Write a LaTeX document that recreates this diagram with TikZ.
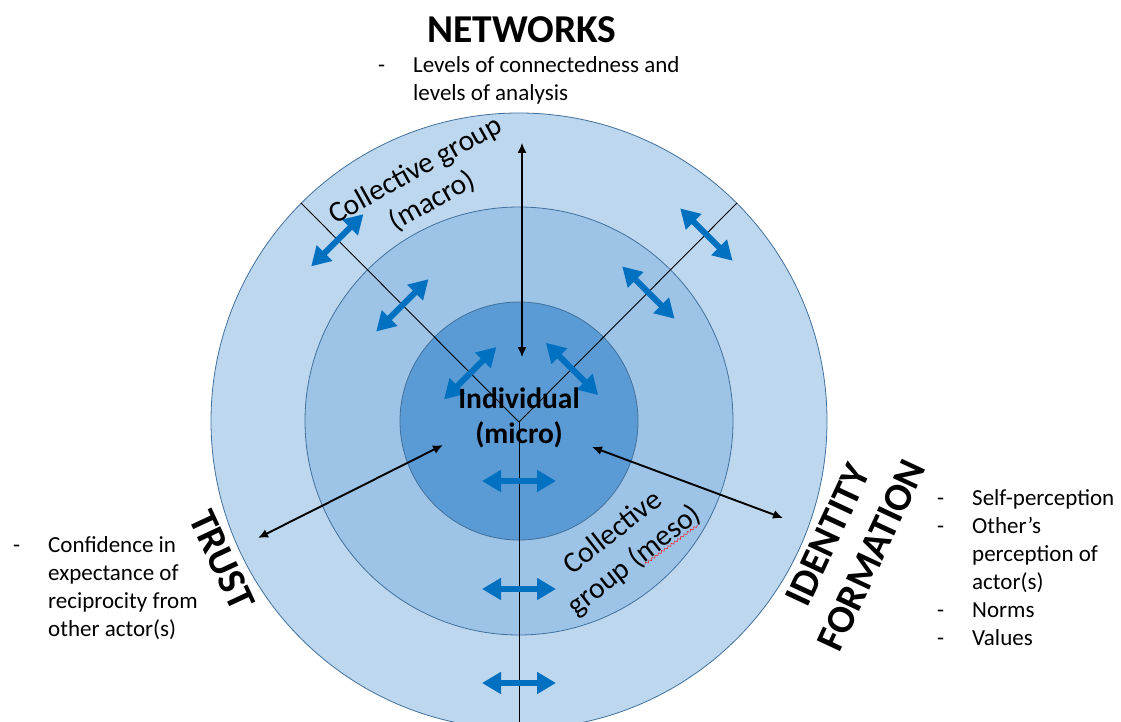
\documentclass[tikz,border=0pt]{standalone}
\usepackage{fontspec}
\setmainfont{Carlito}
\usetikzlibrary{arrows.meta, positioning, calc, decorations.pathmorphing}

\definecolor{outerblue}{HTML}{BDD7EE}
\definecolor{midblue}{HTML}{9DC3E6}
\definecolor{innerblue}{HTML}{5B9BD5}
\definecolor{edgeblue}{HTML}{41719C}
\definecolor{arrowblue}{HTML}{0070C0}

\newcommand{\dashitem}{\makebox[35pt][l]{-}}
\newcommand{\noitem}{\hspace*{35pt}}

\begin{document}
\begin{tikzpicture}[
    x=1pt, y=-1pt,
    ring/.style={circle, draw=edgeblue, line width=0.8pt, inner sep=0pt},
    title/.style={font=\fontsize{39.5}{48}\selectfont\bfseries, align=center},
    level/.style={font=\fontsize{29.5}{35}\selectfont, align=center},
    notes/.style={font=\fontsize{23}{28}\selectfont, align=left, anchor=base west, inner sep=0pt},
    link/.style={{Latex[length=10pt,width=9pt]}-{Latex[length=10pt,width=9pt]}, line width=1.9pt},
    spoke/.style={line width=0.9pt},
    flow/.style={{Triangle[length=19pt,width=21pt]}-{Triangle[length=19pt,width=21pt]}, line width=6pt, arrowblue}
]
    \useasboundingbox (0,0) rectangle (1121,722);

    % Rings and spokes
    \begin{scope}
        \clip (0,0) rectangle (1121,722);
        \node[ring, fill=outerblue, minimum size=616pt] (macro) at (519,421) {};
        \node[ring, fill=midblue, minimum size=428pt] (meso) at (519,421) {};
        \node[ring, fill=innerblue, minimum size=238pt] (micro) at (519,421) {};
        \coordinate (ctr) at (519,422);
        \draw[spoke] (ctr) -- (macro.135);
        \draw[spoke] (ctr) -- (macro.45);
        \draw[spoke] (ctr) -- (macro.south);
    \end{scope}

    % Exchanges across the spokes
    \foreach \ang/\r in {135/257, 135/165, 135/69, 45/75, 45/183, 45/265, -90/59, -90/167, -90/261}
        \draw[flow] ($(ctr)+(\ang:\r pt)+(\ang+90:37pt)$) -- ($(ctr)+(\ang:\r pt)+(\ang-90:37pt)$);

    % Links to the three themes
    \coordinate (net_a) at (522,143);
    \coordinate (net_b) at (522,357);
    \coordinate (trust_a) at (258,538);
    \coordinate (trust_b) at (443,445);
    \coordinate (id_a) at (592,447);
    \coordinate (id_b) at (783,518);
    \draw[link, line width=1.3pt] (net_a) -- (net_b);
    \draw[link] (trust_a) -- (trust_b);
    \draw[link] (id_a) -- (id_b);

    % Level labels
    \node[level, font=\fontsize{29.5}{35}\selectfont\bfseries] (indiv) at (519,418) {Individual\\(micro)};
    \node[level, rotate=29] (macro_label) at (424,186) {Collective group\\(macro)};
    \node[level, rotate=38] (meso_label) at (624,547) {Collective\\group (meso)};
    \draw[red, decorate, decoration={snake, amplitude=1.2pt, segment length=4pt}] (645,564) -- (698,525);

    % Themes
    \node[title] (networks) at (522,30) {NETWORKS};
    \node[notes] (net_notes) at (378,101) {\dashitem Levels of connectedness and\\ \noitem levels of analysis};
    \node[title, rotate=-65] (trust) at (222,560) {TRUST};
    \node[notes] (trust_notes) at (13,636) {\dashitem Confidence in\\ \noitem expectance of\\ \noitem reciprocity from\\ \noitem other actor(s)};
    \node[title, rotate=65] (identity) at (850,545) {IDENTITY\\FORMATION};
    \node[notes] (id_notes) at (937,645) {\dashitem Self-perception\\ \dashitem Other’s\\ \noitem perception of\\ \noitem actor(s)\\ \dashitem Norms\\ \dashitem Values};

\end{tikzpicture}
\end{document}
